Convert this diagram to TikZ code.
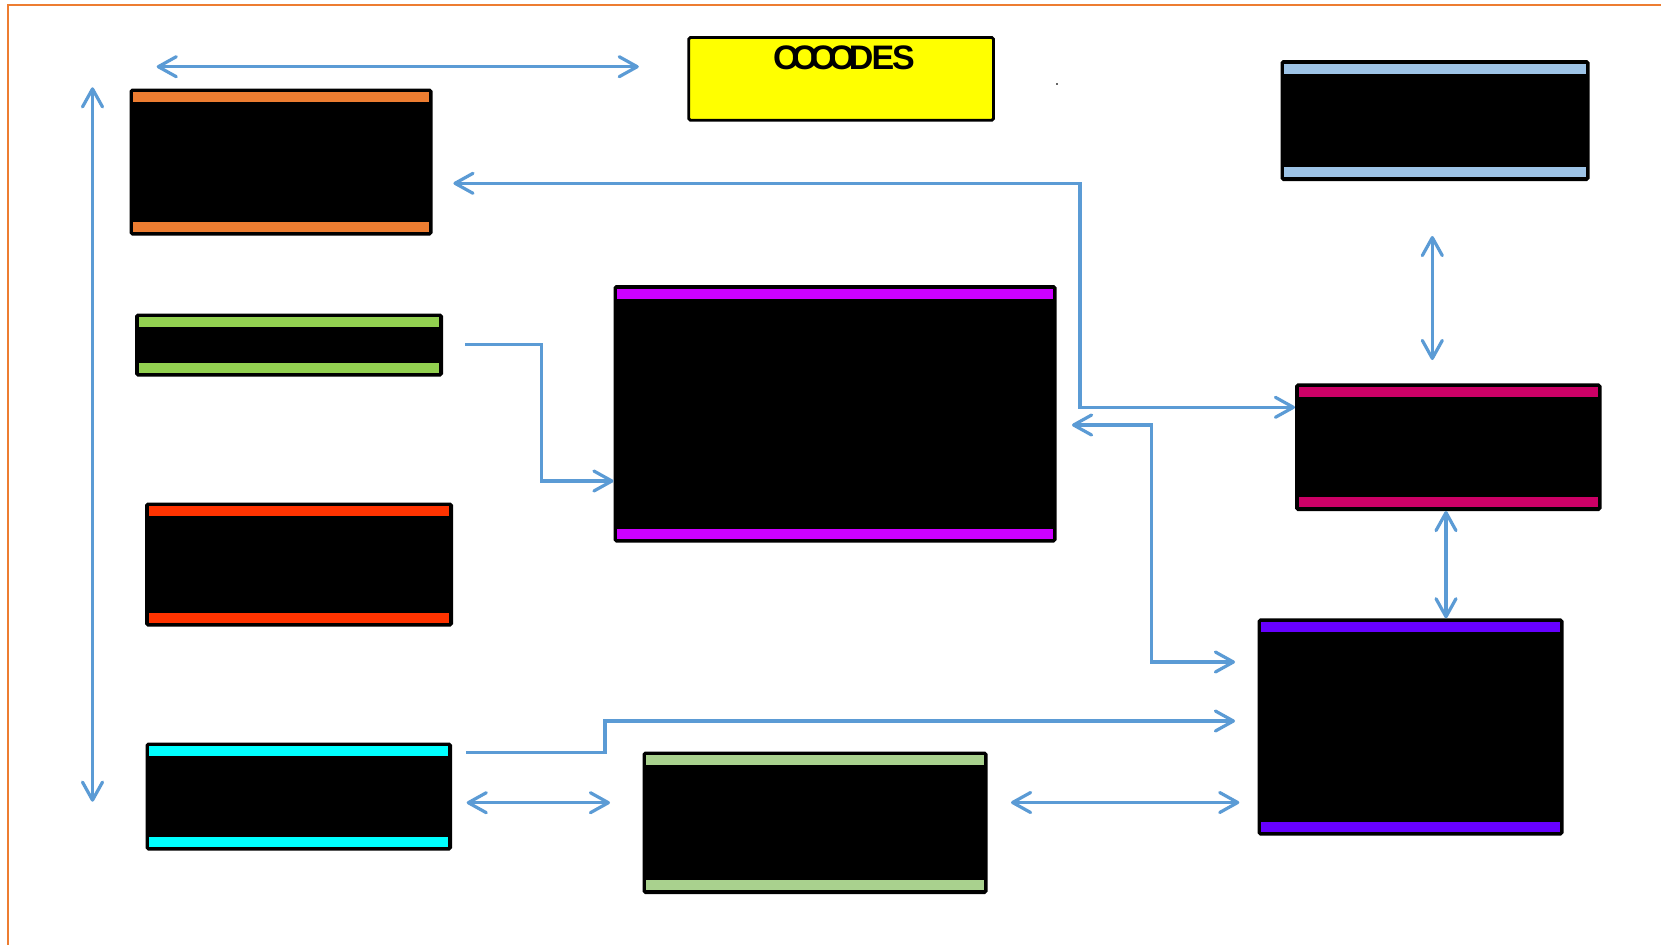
\documentclass[tikz,border=0pt]{standalone}
\usepackage{fontspec}
\setmainfont{Liberation Sans}
\usetikzlibrary{arrows.meta}
\definecolor{frameorange}{HTML}{ED7D31}
\definecolor{linkblue}{HTML}{5B9BD5}
\definecolor{cOrange}{HTML}{ED7D31}
\definecolor{cGreen}{HTML}{92D050}
\definecolor{cRed}{HTML}{FF3300}
\definecolor{cCyan}{HTML}{00FFFF}
\definecolor{cMagenta}{HTML}{CC00FF}
\definecolor{cLightGreen}{HTML}{A9D18E}
\definecolor{cLightBlue}{HTML}{9DC3E6}
\definecolor{cCrimson}{HTML}{CC0066}
\definecolor{cPurple}{HTML}{6600FF}
\definecolor{cYellow}{HTML}{FFFF00}
\tikzset{
  panel/.style={draw=black, line width=1.5pt, fill=black, inner sep=0pt, rounded corners=0.8pt,
    path picture={
      \fill[#1, sharp corners] ([xshift=1.2pt,yshift=-1.2pt]path picture bounding box.north west) rectangle ([xshift=-1.2pt,yshift=-6.2pt]path picture bounding box.north east);
      \fill[#1, sharp corners] ([xshift=1.2pt,yshift=1.2pt]path picture bounding box.south west) rectangle ([xshift=-1.2pt,yshift=6.2pt]path picture bounding box.south east);
    }},
  ybox/.style={draw=black, line width=1.4pt, fill=cYellow, inner sep=0pt, rounded corners=0.8pt},
  conn/.style={draw=linkblue, line width=1.6pt, line join=miter},
  >={Straight Barb[length=9pt,width=10pt,round]}
}
\begin{document}
\begin{tikzpicture}[x=0.5pt,y=-0.5pt]
\path[use as bounding box] (0,0) rectangle (1661,944);
\clip (0,0) rectangle (1661,944);
\fill[white] (0,0) rectangle (1661,944);
% frame
\draw[frameorange, line width=1pt] (7.5,4.7) rectangle (1720,1000);

% yellow title box
\node[ybox, minimum width=152.35pt, minimum height=41.35pt] (title) at (841.15,78.85) {};
\node[anchor=base, inner sep=0pt, font=\bfseries\fontsize{17pt}{17pt}\selectfont] (titletext) at (844,69.3)
  {O\kern-4pt O\kern-4pt O\kern-4pt O\kern-3pt D\kern-1pt E\kern-1pt S};
\fill[black!60] (1056,83) rectangle (1057.6,84.6);

% panels
\node[panel=cOrange, minimum width=150pt, minimum height=72pt] (b1) at (281,162) {};
\node[panel=cGreen, minimum width=152.5pt, minimum height=30pt] (b2) at (289,345) {};
\node[panel=cRed, minimum width=152.5pt, minimum height=60.5pt] (b3) at (299,564.5) {};
\node[panel=cCyan, minimum width=151.75pt, minimum height=52.5pt] (b4) at (298.75,796.5) {};
\node[panel=cMagenta, minimum width=220pt, minimum height=127.25pt] (b5) at (835,413.75) {};
\node[panel=cLightGreen, minimum width=171pt, minimum height=69.75pt] (b6) at (815,822.75) {};
\node[panel=cLightBlue, minimum width=153pt, minimum height=59pt] (b7) at (1435,120.5) {};
\node[panel=cCrimson, minimum width=151.75pt, minimum height=62.35pt] (b8) at (1448.25,447.15) {};
\node[panel=cPurple, minimum width=151.5pt, minimum height=107.1pt] (b9) at (1410.5,726.9) {};

% connector coordinates
\coordinate (a1l) at (156.7,66.7);
\coordinate (a1r) at (638.8,66.7);
\coordinate (a2t) at (92.5,87.3);
\coordinate (a2b) at (92.5,801.7);
\coordinate (a3l) at (453.4,183.3);
\coordinate (a3c) at (1080,183.3);
\coordinate (a3d) at (1080,407.3);
\coordinate (a4s) at (465,344.3);
\coordinate (a4c) at (541.5,344.3);
\coordinate (a4d) at (541.5,481);
\coordinate (a5l) at (1072,425);
\coordinate (a5c) at (1151.7,425);
\coordinate (a5d) at (1151.7,662);
\coordinate (a5r) at (1235,662);
\coordinate (a6s) at (466,752.3);
\coordinate (a6c) at (605,752.3);
\coordinate (a6d) at (605,721);
\coordinate (a6r) at (1235,721);
\coordinate (a7l) at (466.7,802.7);
\coordinate (a7r) at (610,802.7);
\coordinate (a8l) at (1011,802.5);
\coordinate (a8r) at (1239.3,802.5);
\coordinate (a9t) at (1432.3,236);
\coordinate (a9b) at (1432.3,360);
\coordinate (a10) at (1446,0);

% connectors
\draw[conn, <->] (a1l) -- (a1r);
\draw[conn, <->] (a2t) -- (a2b);
\draw[conn, <->] (a3l) -- (a3c) -- (a3d) -- (b8.west |- a3d);
\draw[conn, ->] (a4s) -- (a4c) -- (a4d) -- (b5.west |- a4d);
\draw[conn, <->] (a5l) -- (a5c) -- (a5d) -- (a5r);
\draw[conn, ->] (a6s) -- (a6c) -- (a6d) -- (a6r);
\draw[conn, <->] (a7l) -- (a7r);
\draw[conn, <->] (a8l) -- (a8r);
\draw[conn, <->] (a9t) -- (a9b);
\draw[conn, <->] (b8.south -| a10) -- (b9.north -| a10);
\end{tikzpicture}
\end{document}
